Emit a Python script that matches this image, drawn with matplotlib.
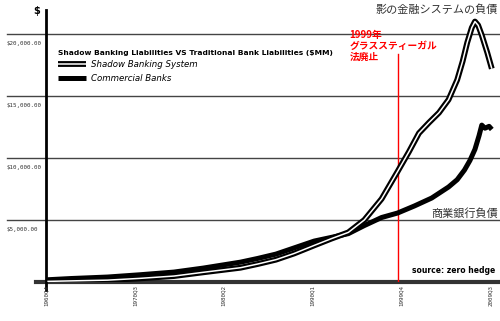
import matplotlib
matplotlib.use("Agg")
import matplotlib.pyplot as plt
import matplotlib.patheffects as pe

plt.rcParams['font.family'] = ['DejaVu Sans', 'Noto Sans CJK JP']

# liabilities, $MM
years = [1960.9, 1963.5, 1967.5, 1971.0, 1974.8, 1978.0, 1982.1, 1984.0,
         1986.0, 1988.0, 1990.2, 1992.1, 1993.95, 1995.7, 1997.6, 1999.35,
         2001.2, 2003.1, 2004.95, 2005.9, 2006.7, 2007.3, 2007.85, 2008.3,
         2008.6, 2008.95, 2009.4, 2009.7]
commercial = [180, 280, 400, 580, 800, 1120, 1600, 1900, 2250, 2750, 3300,
              3600, 3900, 4550, 5200, 5560, 6130, 6770, 7660, 8250, 9030,
              9800, 10700, 11800, 12650, 12400, 12550, 12300]

shadow_years = [1960.9, 1963.5, 1967.5, 1971.0, 1974.8, 1978.0, 1982.1,
                1984.0, 1986.0, 1988.0, 1990.2, 1992.1, 1993.95, 1995.7,
                1997.6, 1999.35, 2000.6, 2001.7, 2002.8, 2003.9, 2004.95,
                2005.9, 2006.5, 2007.0, 2007.5, 2007.85, 2008.2, 2008.6,
                2009.2, 2009.7]
shadow = [50, 90, 150, 290, 480, 780, 1150, 1450, 1800, 2300, 2950, 3500,
          4000, 5000, 6700, 8900, 10500, 12000, 12850, 13650, 14700, 16300,
          17800, 19300, 20500, 21000, 20700, 19900, 18500, 17200]

xticks = [1960.75, 1970.5, 1980.25, 1990.0, 1999.75, 2009.5]
xlabels = ["1960Q4", "1970Q3", "1980Q2", "1990Q1", "1999Q4", "2009Q3"]
yticks = [5000, 10000, 15000, 20000]
ylabels = ["$5,000.00", "$10,000.00", "$15,000.00", "$20,000.00"]
glass_steagall = 1999.4
note_lines = ["1999年", "グラススティーガル", "法廃止"]

fig = plt.figure(figsize=(5, 3.21), dpi=100)
ax = fig.add_axes([0.09, 0.1215, 0.91, 0.8475])
ax.set_xlim(1960.64, 2010.6)
ax.set_ylim(0, 21935)
for s in ax.spines.values():
    s.set_visible(False)
ax.set_xticks([])
ax.set_yticks([])

# grid lines reaching out past the axis on the left
for v, lab in zip(yticks, ylabels):
    ax.axhline(v, xmin=-0.083, xmax=1, color='#444444', lw=1.0,
               clip_on=False, zorder=1)
    ax.text(-0.085, v - 550, lab, transform=ax.get_yaxis_transform(),
            fontsize=4.2, family='DejaVu Sans Mono', color='#333333',
            va='top', ha='left')
ax.axhline(0, xmin=-0.02, xmax=1, color='#333333', lw=3, clip_on=False,
           zorder=1)
ax.axvline(1960.7, ymin=-0.03, ymax=1, color='black', lw=2, clip_on=False,
           zorder=1)
ax.text(-0.012, 0.995, "$", transform=ax.transAxes, fontsize=7,
        fontweight='bold', ha='right', va='center')

for x, lab in zip(xticks, xlabels):
    ax.text(x, -0.012, lab, transform=ax.get_xaxis_transform(), rotation=90,
            fontsize=4.2, family='DejaVu Sans Mono', color='#333333',
            ha='center', va='top')

# Glass-Steagall repeal
ax.plot([glass_steagall, glass_steagall], [0, 18400], color='red', lw=1,
        zorder=2)
for i, line in enumerate(note_lines):
    ax.text(1994.1, 19950 - i * 880, line, color='red', fontsize=7,
            fontweight='bold', family=['Noto Sans CJK JP'],
            va='center', ha='left')

ax.plot(years, commercial, color='black', lw=3.6, solid_capstyle='butt',
        solid_joinstyle='round', zorder=3, label="Commercial Banks")
ax.plot(shadow_years, shadow, color='white', lw=1.1, zorder=4,
        solid_capstyle='butt', solid_joinstyle='round',
        label="Shadow Banking System",
        path_effects=[pe.Stroke(linewidth=4.2, foreground='black'),
                      pe.Normal()])

h, l = ax.get_legend_handles_labels()
leg = ax.legend(h[::-1], l[::-1], loc='upper left',
                bbox_to_anchor=(0.02, 0.868), frameon=False,
                title="Shadow Banking Liabilities VS Traditional Bank Liabilities ($MM)",
                title_fontproperties={'size': 5.4, 'weight': 'bold'},
                prop={'size': 6.2, 'style': 'italic'}, handlelength=3.2,
                labelspacing=0.5, borderpad=0, handletextpad=0.6)
leg._legend_box.align = 'left'

ax.text(0.995, 1.0, "影の金融システムの負債", transform=ax.transAxes,
        fontsize=8, family=['Noto Sans CJK JP'], color='#333333',
        ha='right', va='center')
ax.text(0.995, 5550, "商業銀行負債", transform=ax.get_yaxis_transform(),
        fontsize=8, family=['Noto Sans CJK JP'], color='#333333',
        ha='right', va='center')
ax.text(0.99, 900, "source: zero hedge", transform=ax.get_yaxis_transform(),
        fontsize=5.5, fontweight='bold', ha='right', va='center')

fig.savefig("out.png", dpi=100)
